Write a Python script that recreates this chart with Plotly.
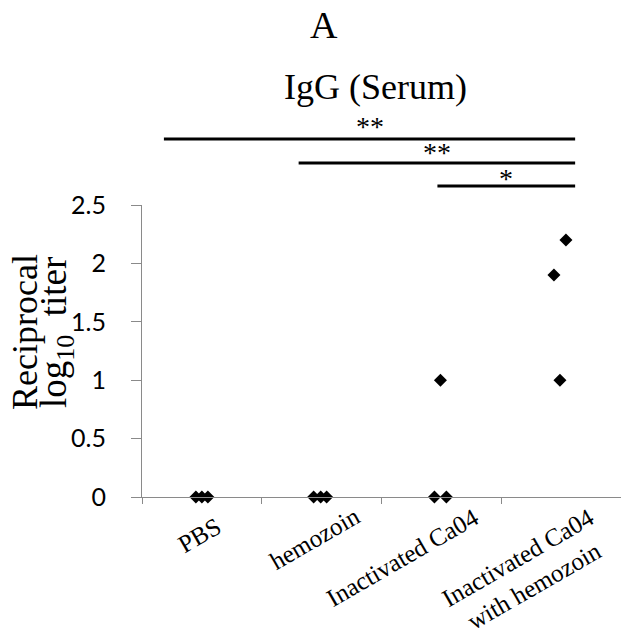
import plotly.graph_objects as go

# ---- data ----
groups = ["PBS", "hemozoin", "Inactivated Ca04", "Inactivated Ca04<br>with hemozoin"]
pbs = [0, 0, 0]
hemozoin = [0, 0, 0]
ca04 = [0, 0, 1.0]
ca04_hz = [2.2, 1.9, 1.0]
series = [pbs, hemozoin, ca04, ca04_hz]
# horizontal scatter of the replicate points within each group (category units)
jitter = [
    [-0.05, 0.0, 0.05],
    [-0.067, -0.008, 0.042],
    [-0.058, 0.042, -0.008],
    [0.04, -0.06, -0.01],
]
y_ticks = [0, 0.5, 1, 1.5, 2, 2.5]
y_ticktext = ["0", "0.5", "1", "1.5", "2", "2.5"]
# significance brackets: start, end (category units), height (data units), label
sig_start = [-0.317, 0.808, 1.967]
sig_end = [3.117, 3.117, 3.117]
sig_level = [3.065, 2.86, 2.663]
sig_text = ["**", "**", "*"]

Y_MAX = 2.5
GREY = "#8a8a8a"
SERIF = "Liberation Serif, Times New Roman, serif"

W, H = 621, 637
ML, MT, PH = 142, 205, 292
MB = H - MT - PH

fig = go.Figure()
xs, ys = [], []
for i, vals in enumerate(series):
    for j, v in enumerate(vals):
        xs.append(i + jitter[i][j])
        ys.append(v)
fig.add_trace(go.Scatter(
    x=xs, y=ys, mode="markers",
    marker=dict(symbol="diamond", size=10, color="black", line=dict(width=0)),
    cliponaxis=False, showlegend=False, hoverinfo="skip",
))

shapes = []
annotations = []
sig_gap = [13, 10, 7]
for s, e, lv, t, gp in zip(sig_start, sig_end, sig_level, sig_text, sig_gap):
    shapes.append(dict(type="line", xref="x", yref="paper", x0=s, x1=e,
                       y0=lv / Y_MAX, y1=lv / Y_MAX,
                       line=dict(color="black", width=3)))
    annotations.append(dict(text=t, xref="x", yref="paper", x=(s + e) / 2,
                            y=lv / Y_MAX, yshift=gp, showarrow=False,
                            xanchor="center", yanchor="middle",
                            font=dict(family=SERIF, size=28, color="black")))

# category labels (rotated)
label_dx = [-3, -7, -39, -35]
label_dy = [38, 41, 60, 75]
for i, g in enumerate(groups):
    annotations.append(dict(text=g, xref="x", yref="paper", x=i, y=0,
                            xshift=label_dx[i], yshift=-label_dy[i],
                            textangle=-30, showarrow=False,
                            xanchor="center", yanchor="middle", align="center",
                            font=dict(family=SERIF, size=25, color="black")))

# titles
annotations.append(dict(text="A", xref="paper", yref="paper", x=(324 - ML) / (W - ML), y=1,
                        yshift=180, showarrow=False, xanchor="center", yanchor="middle",
                        font=dict(family=SERIF, size=38, color="black")))
annotations.append(dict(text="IgG (Serum)", xref="paper", yref="paper", x=(375 - ML) / (W - ML), y=1,
                        yshift=118, showarrow=False, xanchor="center", yanchor="middle",
                        font=dict(family=SERIF, size=36, color="black")))
# y-axis title (two overlapping lines as in the original)
annotations.append(dict(text="Reciprocal", xref="paper", yref="paper", x=0, xshift=25 - ML,
                        y=(497 - 332) / PH, textangle=-90, showarrow=False,
                        xanchor="center", yanchor="middle",
                        font=dict(family=SERIF, size=36, color="black")))
annotations.append(dict(text="log<sub>10</sub>&nbsp; titer", xref="paper", yref="paper", x=0,
                        xshift=56 - ML,
                        y=(497 - 333) / PH, textangle=-90, showarrow=False,
                        xanchor="center", yanchor="middle",
                        font=dict(family=SERIF, size=37, color="black")))

fig.update_layout(
    width=W, height=H,
    margin=dict(l=ML, r=0, t=MT, b=MB, pad=0),
    paper_bgcolor="white", plot_bgcolor="white",
    shapes=shapes, annotations=annotations,
    xaxis=dict(range=[-0.5, 3.5], showgrid=False, zeroline=False,
               showline=True, linecolor=GREY, linewidth=1,
               ticks="", showticklabels=False, tickvals=[],
               minor=dict(tickmode="array", tickvals=[-0.5, 0.5, 1.5, 2.5, 3.5],
                          ticks="outside", ticklen=6, tickcolor=GREY, tickwidth=1,
                          showgrid=False)),
    yaxis=dict(range=[0, Y_MAX], showgrid=False, zeroline=False,
               showline=True, linecolor=GREY, linewidth=1,
               tickmode="array", tickvals=y_ticks, ticktext=y_ticktext,
               ticks="outside", ticklen=10, tickcolor=GREY, tickwidth=1,
               ticklabelstandoff=20,
               tickfont=dict(family="Lato, Open Sans, sans-serif", size=25, color="black")),
)

fig.write_html("out.html", config={"displayModeBar": False},
               post_script="document.body.style.margin='0';document.body.style.overflow='hidden';")
